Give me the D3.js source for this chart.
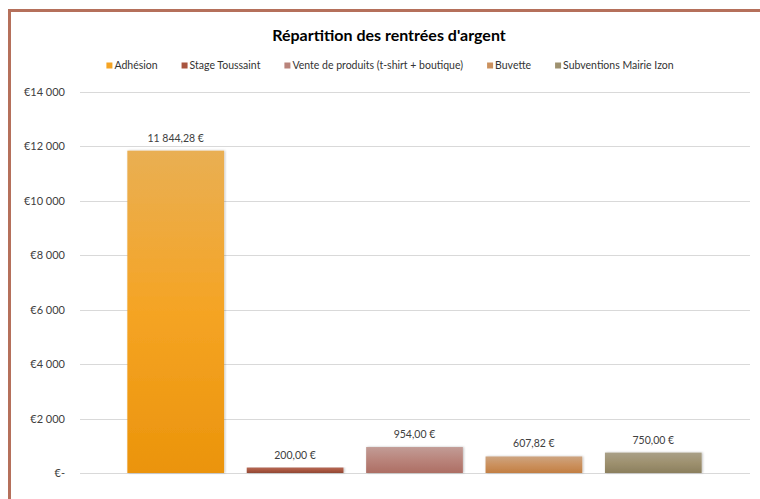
<!DOCTYPE html>
<html><head><meta charset="utf-8">
<script src="https://cdn.jsdelivr.net/npm/d3@7"></script>
<style>
html,body{margin:0;padding:0;background:#fff;}
svg{display:block;}
text{font-family:Lato,"Open Sans",sans-serif;}
</style></head>
<body>
<svg id="c" width="760" height="499"></svg>
<script>
const title = "Répartition des rentrées d'argent";
const categories = ["Adhésion","Stage Toussaint","Vente de produits (t-shirt + boutique)","Buvette","Subventions Mairie Izon"];
const values = [11844.28, 200.00, 954.00, 607.82, 750.00];
const colors = ["#F5A424","#A9553F","#B9847B","#CB915E","#9E916F"];
const yTicks = [0,2000,4000,6000,8000,10000,12000,14000];

const svg = d3.select("#c");
// border
svg.append("rect").attr("x",9.5).attr("y",10.5).attr("width",760).attr("height",500)
  .attr("fill","#fff").attr("stroke","#B5705B").attr("stroke-width",3);

const plotL = 80, plotR = 750, plotT = 92, plotB = 473;
const y = d3.scaleLinear().domain([0,14000]).range([plotB,plotT]);
const x = d3.scaleBand().domain(categories).range([116,713]).paddingInner(0.19).paddingOuter(0.095);

const yAxis = d3.axisLeft(y).tickValues(yTicks).tickSize(0).tickPadding(0)
  .tickFormat(v => v===0 ? "€-" : "€" + d3.format(",")(v).replace(/,/g,"\u202F"));

const defs = svg.append("defs");
colors.forEach((c,i)=>{
  const g = defs.append("linearGradient").attr("id","g"+i).attr("x1",0).attr("y1",0).attr("x2",0).attr("y2",1);
  const base = d3.hsl(c);
  g.append("stop").attr("offset","0%").attr("stop-color", d3.hsl(base.h, base.s*0.85, Math.min(1,base.l+0.07)).formatHex());
  g.append("stop").attr("offset","50%").attr("stop-color", c);
  g.append("stop").attr("offset","100%").attr("stop-color", d3.hsl(base.h, base.s, base.l-0.07).formatHex());
});
const flt = defs.append("filter").attr("id","sh").attr("x","-10%").attr("y","-10%").attr("width","130%").attr("height","130%");
flt.append("feDropShadow").attr("dx",1).attr("dy",0).attr("stdDeviation",1.2).attr("flood-color","#000").attr("flood-opacity",0.25);

// gridlines
svg.append("g").selectAll("line").data(yTicks).join("line")
  .attr("x1",plotL).attr("x2",plotR).attr("y1",d=>Math.round(y(d))+0.5).attr("y2",d=>Math.round(y(d))+0.5)
  .attr("stroke","#D9D9D9").attr("stroke-width",1);

const ya = svg.append("g").attr("transform","translate(65,0)").call(yAxis);
ya.select(".domain").remove();
ya.selectAll("text").attr("fill","#404040").style("font-size","11px").style("font-family","Lato,sans-serif");

// bars
svg.append("g").selectAll("rect").data(values).join("rect")
  .attr("x",(d,i)=>x(categories[i])).attr("width",x.bandwidth())
  .attr("y",d=>y(d)).attr("height",d=>plotB-y(d))
  .attr("fill",(d,i)=>"url(#g"+i+")").attr("filter","url(#sh)");

// data labels
const fmtLab = v => {
  const parts = v.toFixed(2).split(".");
  return parts[0].replace(/\B(?=(\d{3})+(?!\d))/g,"\u202F") + "," + parts[1] + "\u00A0€";
};
svg.append("g").selectAll("text").data(values).join("text")
  .attr("x",(d,i)=>x(categories[i])+x.bandwidth()/2).attr("y",d=>y(d)-9)
  .attr("text-anchor","middle").attr("fill","#404040").style("font-size","10.5px")
  .text(d=>fmtLab(d));

// title
svg.append("text").attr("x",389).attr("y",41).attr("text-anchor","middle")
  .attr("fill","#000").style("font-size","16px").style("font-weight","bold").text(title);

// legend
const lg = svg.append("g");
const items = lg.selectAll("g").data(categories).join("g");
items.append("rect").attr("width",6).attr("height",6).attr("y",-6.5).attr("fill",(d,i)=>colors[i]);
items.append("text").attr("x",8).attr("y",0).attr("fill","#333").style("font-size","10.5px").text(d=>d);
const gap = 24;
const widths = [];
items.each(function(){ widths.push(8 + this.querySelector("text").getComputedTextLength()); });
const total = d3.sum(widths) + gap*(widths.length-1);
let start = 390 - total/2;
items.attr("transform",(d,i)=>{ const t = "translate("+(start)+",69)"; start += widths[i]+gap; return t; });
</script>
</body></html>
